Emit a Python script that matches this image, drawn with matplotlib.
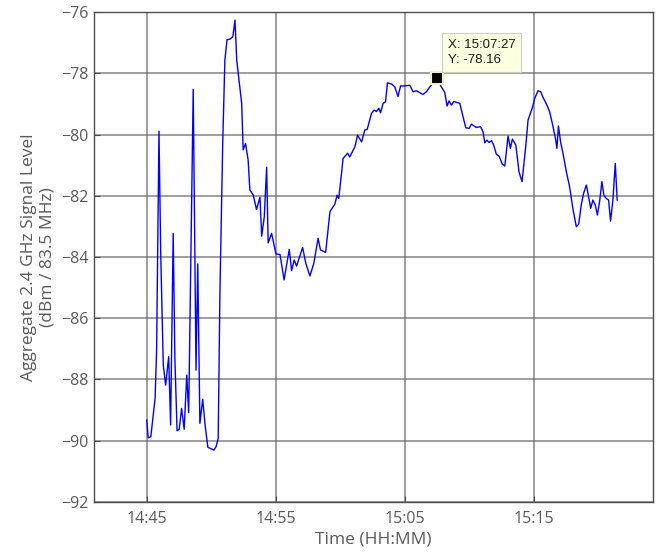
import datetime as dt
import numpy as np
import matplotlib
matplotlib.use("Agg")
import matplotlib.pyplot as plt
import matplotlib.dates as mdates

plt.rcParams['font.family'] = ['Open Sans', 'DejaVu Sans']

# seconds after 14:45:00 and the aggregate level at each sample
t_sec = [0, 7, 19, 39, 46, 57, 65, 77, 88, 102, 111, 123, 131, 141, 151, 162,
         174, 186, 195, 216, 229, 237, 247, 260, 272, 284, 297, 312, 322, 332,
         340, 353, 363, 373, 387, 400, 410, 418, 441, 448, 459, 471, 479, 495,
         510, 526, 534, 546, 557, 564, 580, 600, 619, 638, 662, 673, 685, 696,
         724, 739, 758, 776, 796, 807, 831, 851, 874, 884, 892, 912, 933, 943,
         967, 979, 998, 1013, 1024, 1044, 1056, 1067, 1078, 1086, 1098, 1109,
         1118, 1137, 1152, 1167, 1179, 1199, 1222, 1237, 1253, 1283, 1299, 1315,
         1347, 1369, 1384, 1395, 1404, 1415, 1426, 1454, 1469, 1482, 1497, 1508,
         1531, 1550, 1562, 1570, 1580, 1590, 1601, 1611, 1624, 1636, 1652, 1663,
         1678, 1689, 1698, 1714, 1729, 1743, 1760, 1771, 1791, 1802, 1817, 1830,
         1840, 1856, 1871, 1887, 1899, 1905, 1912, 1922, 1933, 1949, 1964, 1979,
         1995, 2006, 2018, 2029, 2042, 2052, 2062, 2072, 2083, 2093, 2103, 2114,
         2123, 2134, 2145, 2154, 2165, 2176, 2185]
level = [-89.33, -89.91, -89.88, -88.62, -87.04, -79.89, -83.87, -87.53, -88.19,
         -87.26, -89.49, -83.23, -87.37, -89.68, -89.63, -88.95, -89.63, -87.86,
         -89.09, -78.52, -87.70, -84.23, -89.44, -88.65, -89.55, -90.22, -90.26,
         -90.31, -90.20, -89.93, -85.18, -80.28, -77.57, -76.90, -76.88, -76.80,
         -76.26, -77.57, -78.98, -80.50, -80.29, -80.83, -81.81, -81.98, -82.45,
         -82.05, -83.32, -82.69, -81.07, -83.54, -83.23, -83.90, -83.92, -84.75,
         -83.75, -84.45, -84.10, -84.30, -83.69, -84.21, -84.62, -84.21, -83.39,
         -83.77, -83.85, -82.52, -82.27, -81.98, -82.09, -80.78, -80.61, -80.73,
         -80.40, -80.02, -80.24, -79.85, -79.83, -79.31, -79.20, -79.25, -79.14,
         -79.29, -78.98, -78.93, -78.31, -78.35, -78.44, -78.76, -78.41, -78.41,
         -78.39, -78.60, -78.57, -78.69, -78.60, -78.44, -78.16, -78.45, -78.62,
         -79.07, -78.90, -79.04, -78.92, -78.98, -79.42, -79.78, -79.80, -79.66,
         -79.77, -79.74, -79.91, -80.27, -80.18, -80.26, -80.20, -80.34, -80.65,
         -80.70, -80.97, -81.03, -80.05, -80.45, -80.15, -80.34, -81.22, -81.54,
         -80.40, -79.53, -79.12, -78.82, -78.57, -78.60, -78.78, -79.00, -79.25,
         -79.74, -80.16, -80.45, -79.72, -80.24, -80.61, -81.22, -81.71, -82.41,
         -83.01, -82.93, -82.30, -81.92, -81.65, -82.03, -82.41, -82.14, -82.30,
         -82.63, -82.20, -81.54, -81.98, -82.09, -82.14, -82.83, -82.14, -80.94,
         -82.14]

start = dt.datetime(2000, 1, 1, 14, 45, 0)
times = [start + dt.timedelta(seconds=s) for s in t_sec]

tick_times = ['14:45', '14:55', '15:05', '15:15']
tip_time = '15:07:27'
tip_level = -78.16


def clock(s):
    parts = [int(p) for p in s.split(':')] + [0]
    return dt.datetime(2000, 1, 1, parts[0], parts[1], parts[2])


fig = plt.figure(figsize=(6.6, 5.52), dpi=100)
ax = fig.add_axes([0.143, 0.091, 0.846, 0.887])

ax.plot(times, level, color='#0000ff', lw=1.0)

ax.set_xlim(clock('14:40:57'), clock('15:24:10'))
ax.set_ylim(-92, -76)
ax.set_yticks(np.arange(-92, -75, 2))
ax.set_xticks([clock(t) for t in tick_times])
ax.xaxis.set_major_formatter(mdates.DateFormatter('%H:%M'))

ax.grid(True, color='#6e6e6e', lw=1.1, alpha=0.85)
ax.set_axisbelow(True)
for sp in ax.spines.values():
    sp.set_color('#4d4d4d')
    sp.set_linewidth(1.0)
ax.tick_params(direction='in', length=4, color='#4d4d4d', labelsize=11.5,
               labelcolor='#595959')
ax.tick_params(axis='y', pad=4)
ax.tick_params(axis='x', pad=7)

ax.set_xlabel('Time (HH:MM)', fontsize=12.5, color='#595959', labelpad=3)
ax.set_ylabel('Aggregate 2.4 GHz Signal Level\n(dBm / 83.5 MHz)', fontsize=12.5,
              color='#595959', labelpad=4, linespacing=1.2)

# data cursor
tip_x = clock(tip_time)
ax.plot([tip_x], [tip_level], marker='s', ms=9, mfc='black', mec='#f2efc8',
        mew=1.5, zorder=5)
ax.annotate('X: %s\nY: %.2f' % (tip_time, tip_level), xy=(tip_x, tip_level),
            xytext=(11, 12), textcoords='offset pixels', ha='left', va='bottom',
            fontsize=9.5, family=['Liberation Sans', 'DejaVu Sans'],
            color='#1a1a1a', linespacing=1.35,
            bbox=dict(boxstyle='square,pad=0.45', fc='#ffffe1', ec='#cfcfc0',
                      lw=0.8), zorder=6)

fig.savefig('out.png', dpi=100)
